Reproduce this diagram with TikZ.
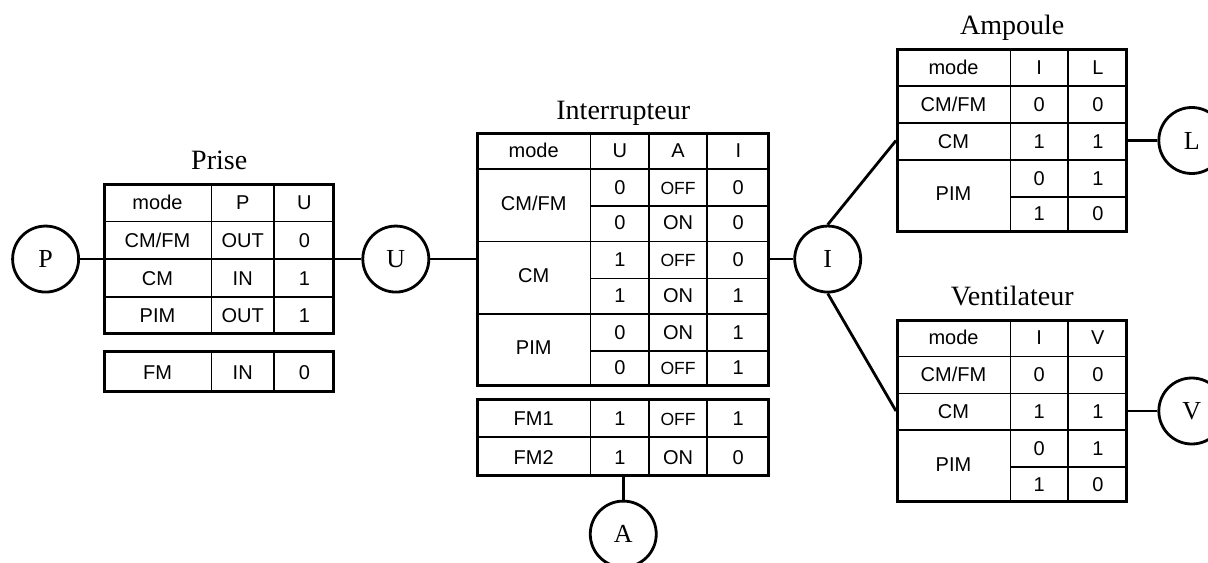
\documentclass[tikz,border=0pt]{standalone}
\usepackage{fontspec}
\setmainfont{Liberation Serif}
\setsansfont{Liberation Sans}
\usepackage{array,multirow}
\usetikzlibrary{positioning}
\newcolumntype{C}[1]{>{\centering\arraybackslash}p{#1}}
\newcommand{\offtxt}{{\fontsize{8.8}{10}\selectfont OFF}}
\setlength{\tabcolsep}{0pt}
\setlength{\arrayrulewidth}{0.85pt}
\renewcommand{\arraystretch}{1.47}

\begin{document}
\begin{tikzpicture}[x=0.5pt,y=-0.5pt,
 tab/.style={draw,line width=1.5pt,inner sep=0pt,font=\sffamily\fontsize{10}{12}\selectfont},
 title/.style={inner sep=0pt,text depth=0pt,font=\fontsize{14}{16}\selectfont},
 circ/.style={draw,circle,line width=1.4pt,minimum size=33pt,inner sep=0pt,font=\fontsize{13}{15}\selectfont},
 wire/.style={line width=1.4pt}]
\useasboundingbox (0,0) rectangle (1208,562);
\node[tab,anchor=north west](prise) at (103,183){\renewcommand{\arraystretch}{1.5}%
 \begin{tabular}{C{53pt}|C{30.5pt}|C{29.5pt}}
 mode & P & U\\\hline
 CM/FM & OUT & 0\\\hline
 CM & IN & 1\\\hline
 PIM & OUT & 1
 \end{tabular}};
\node[tab,below=7.5pt of prise](prisefm){\renewcommand{\arraystretch}{1.65}%
 \begin{tabular}{C{53pt}|C{30.5pt}|C{29.5pt}}
 FM & IN & 0
 \end{tabular}};
\node[title,above=6.5pt of prise]{Prise};
\node[circ,left=11.5pt of prise](P){P};
\node[circ,right=13pt of prise](U){U};
\node[tab,right=23pt of U](inter){%
 \begin{tabular}{C{56pt}|C{28.5pt}|C{28pt}|C{30.5pt}}
 mode & U & A & I\\\hline
 \multirow{2}{*}{CM/FM} & 0 & \offtxt & 0\\\cline{2-4}
 & 0 & ON & 0\\\hline
 \multirow{2}{*}{CM} & 1 & \offtxt & 0\\\cline{2-4}
 & 1 & ON & 1\\\hline
 \multirow{2}{*}{PIM} & 0 & ON & 1\\\cline{2-4}
 & 0 & \offtxt & 1
 \end{tabular}};
\node[tab,below=5.5pt of inter](interfm){\renewcommand{\arraystretch}{1.55}%
 \begin{tabular}{C{56pt}|C{28.5pt}|C{28pt}|C{30.5pt}}
 FM1 & 1 & \offtxt & 1\\\hline
 FM2 & 1 & ON & 0
 \end{tabular}};
\node[title,above=6pt of inter]{Interrupteur};
\node[circ,below=11.5pt of interfm](A){A};
\node[circ,right=11.5pt of inter](I){I};
\node[tab,anchor=west](amp) at (896,140.5){%
 \begin{tabular}{C{56pt}|C{28pt}|C{29pt}}
 mode & I & L\\\hline
 CM/FM & 0 & 0\\\hline
 CM & 1 & 1\\\hline
 \multirow{2}{*}{PIM} & 0 & 1\\\cline{2-3}
 & 1 & 0
 \end{tabular}};
\node[title,above=6.5pt of amp]{Ampoule};
\node[circ,right=14.5pt of amp](L){L};
\node[tab,anchor=west](ven) at (896,411){%
 \begin{tabular}{C{56pt}|C{28pt}|C{29pt}}
 mode & I & V\\\hline
 CM/FM & 0 & 0\\\hline
 CM & 1 & 1\\\hline
 \multirow{2}{*}{PIM} & 0 & 1\\\cline{2-3}
 & 1 & 0
 \end{tabular}};
\node[title,above=6.5pt of ven]{Ventilateur};
\node[circ,right=14.5pt of ven](V){V};
\draw[wire](P.east)--(prise.west);
\draw[wire](prise.east)--(U.west);
\draw[wire](U.east)--(inter.west);
\draw[wire](inter.east)--(I.west);
\draw[wire](interfm.south)--(A.north);
\draw[wire](I.north)--(amp.west);
\draw[wire](I.south)--(ven.west);
\draw[wire](amp.east)--(L.west);
\draw[wire](ven.east)--(V.west);
\end{tikzpicture}
\end{document}
